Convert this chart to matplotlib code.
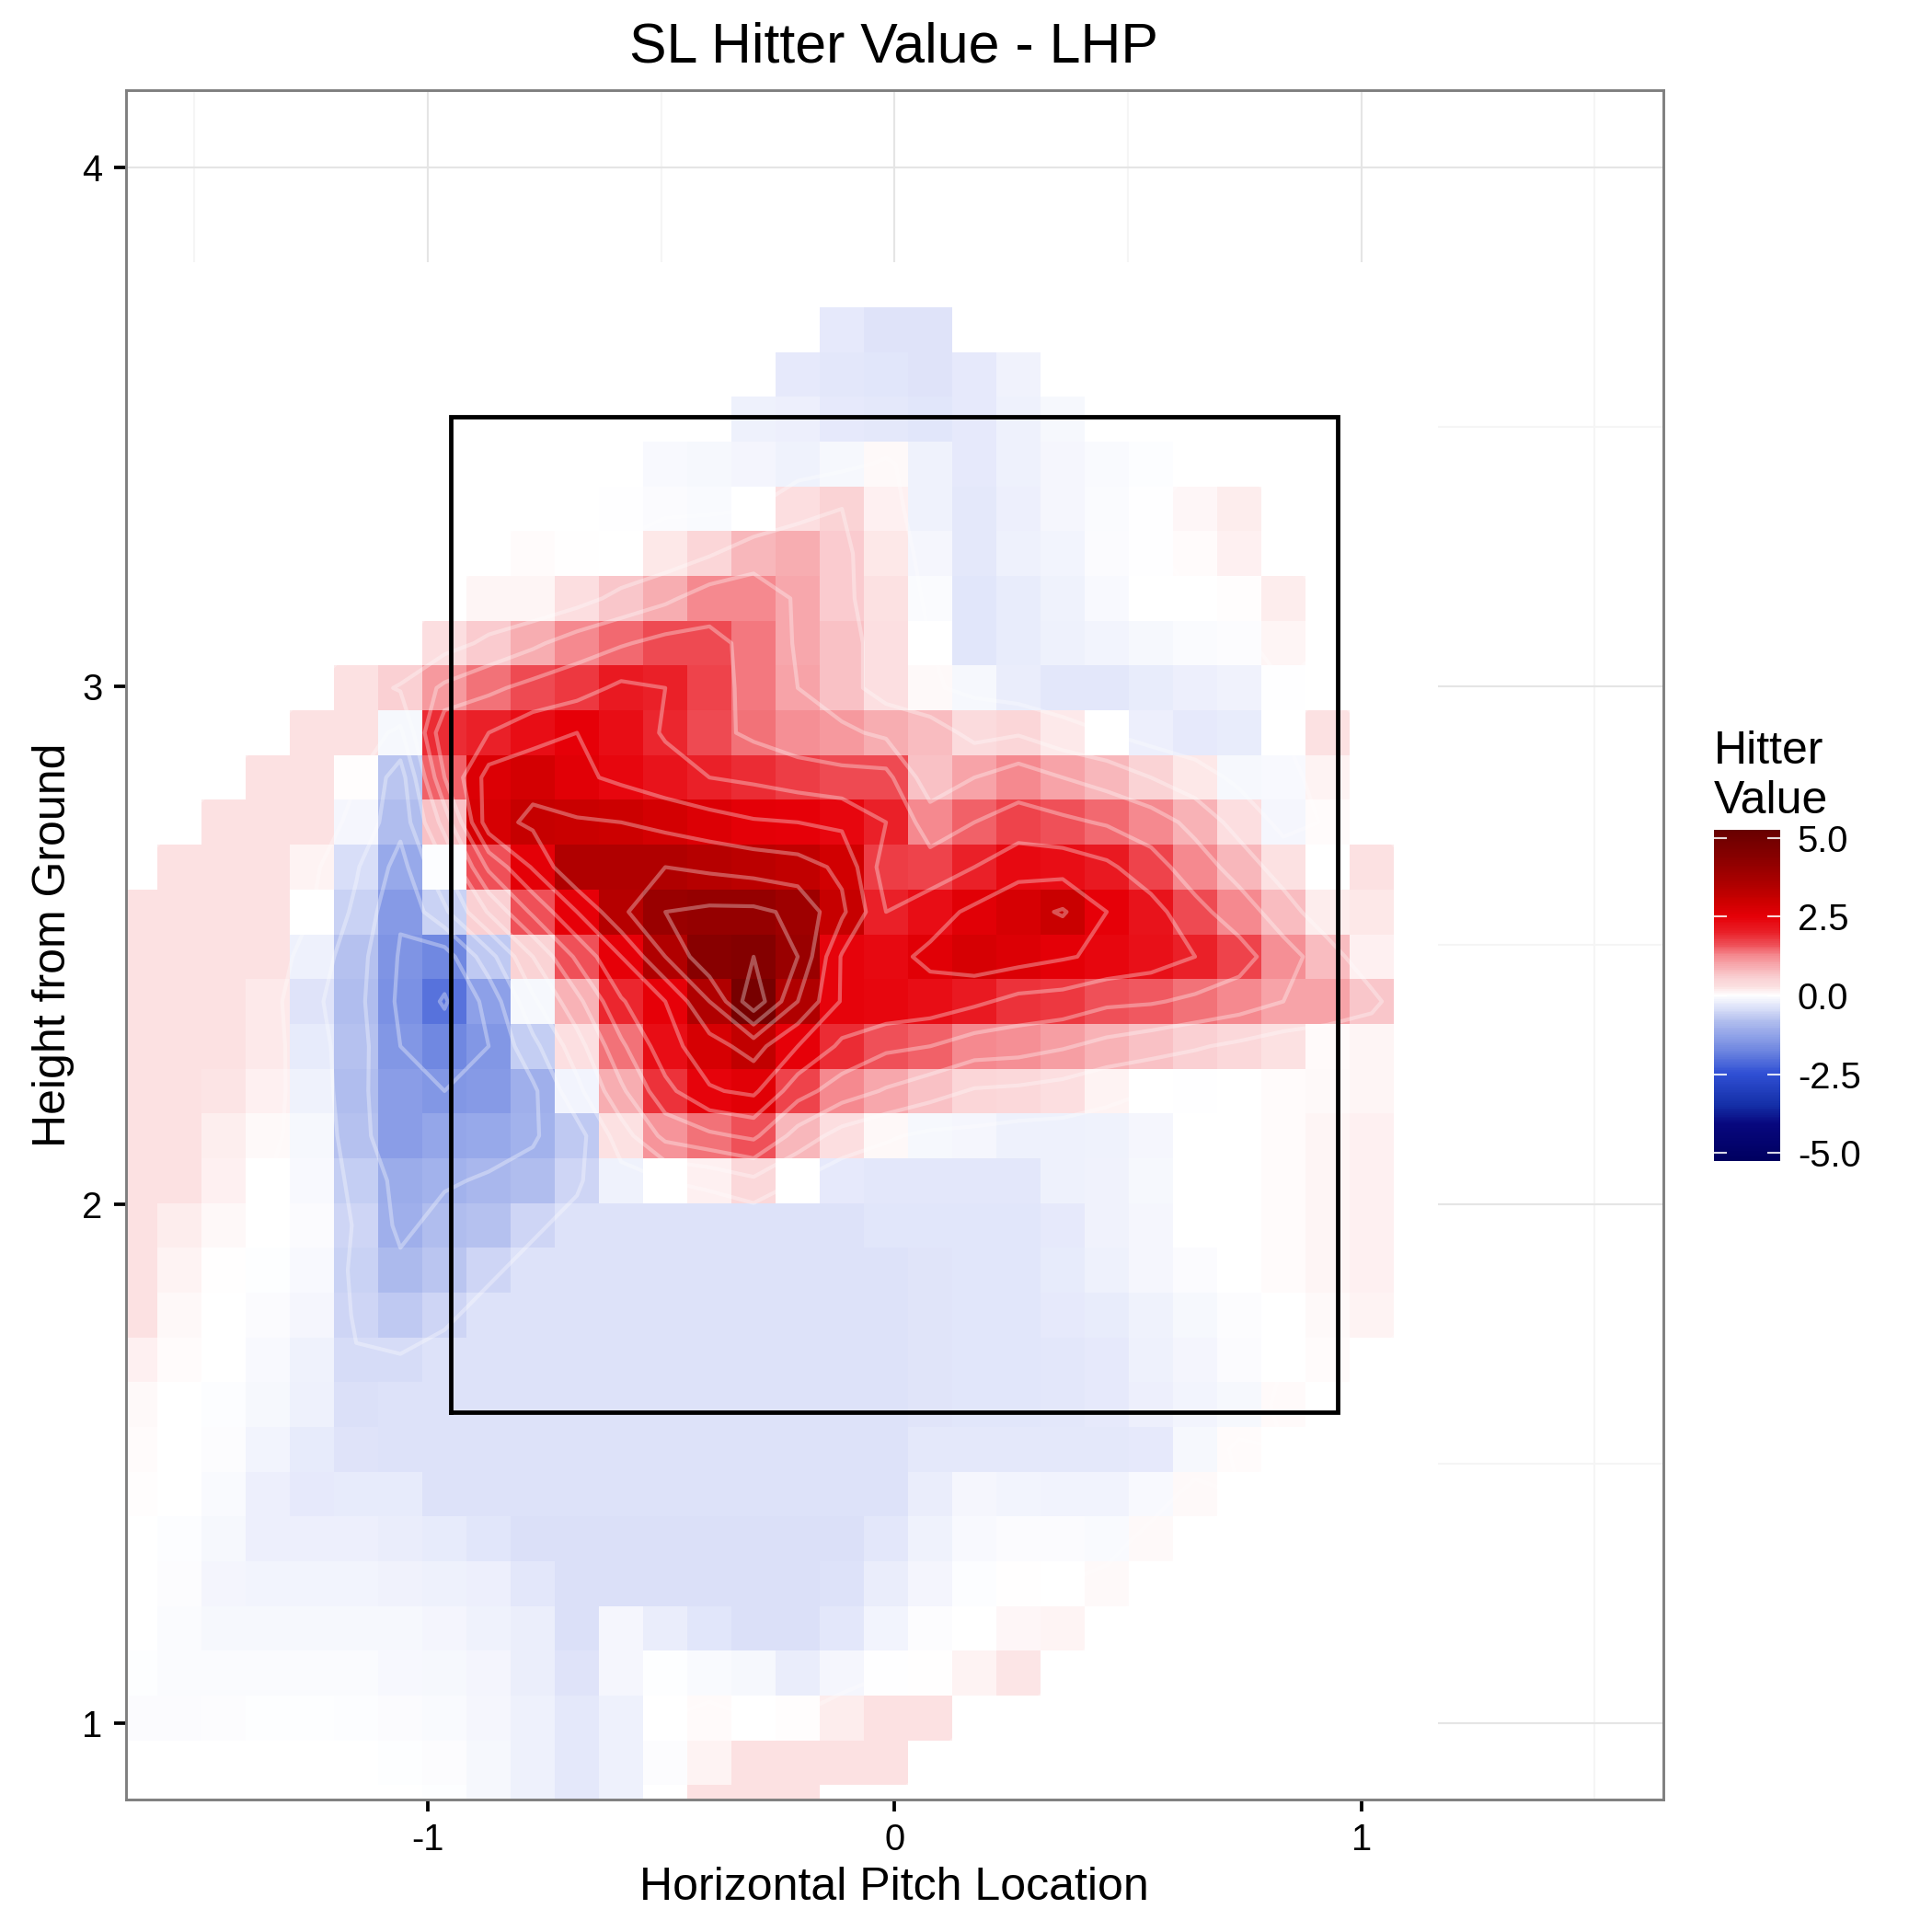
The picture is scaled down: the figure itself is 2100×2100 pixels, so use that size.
import numpy as np
import matplotlib
matplotlib.use('Agg')
import matplotlib.pyplot as plt
from matplotlib.colors import LinearSegmentedColormap, Normalize

plt.rcParams['font.family'] = ['Liberation Sans', 'DejaVu Sans']
plt.rcParams['axes.unicode_minus'] = False

# tile centres
x_centers = np.linspace(-1.626, 1.117, 30)
y_centers = np.linspace(3.7734, 0.8373, 35)

# one row per tile row, top to bottom
hitter_value = [
    [0] * 30,
    [0] * 16 + [-.3, -.38, -.38] + [0] * 11,
    [0] * 15 + [-.3, -.33, -.35, -.38, -.3, -.17] + [0] * 9,
    [0] * 14 + [-.2, -.22, -.3, -.32, -.35, -.3, -.2, -.1] + [0] * 8,
    [0] * 12 + [-.08, -.1, -.13, -.18, -.1, .05, -.18, -.3, -.2, -.12, -.07, -.03] + [0] * 6,
    [0] * 11 + [-.01, -.05, -.07, 0, .3, .5, .12, -.18, -.32, -.22, -.12, -.06, -.01, .07, .15] + [0] * 4,
    [0] * 9 + [.03, .01, .005, .2, .45, .8, .9, .6, .2, -.12, -.32, -.2, -.15, -.05, -.01, .03, .12] + [0] * 4,
    [0] * 8 + [.08, .08, .3, .65, .9, 1.25, 1.25, .95, .6, .25, -.06, -.35, -.27, -.18, -.08, 0, 0, .02, .15] + [0] * 3,
    [0] * 7 + [.3, .6, .9, 1.25, 1.45, 1.65, 1.65, 1.35, .95, .7, .28, 0, -.35, -.27, -.2, -.15, -.1, -.06, -.04, .08] + [0] * 3,
    [0] * 5 + [.25, .55, 1.1, 1.4, 1.65, 1.8, 2.1, 2.0, 1.7, 1.35, 1.0, .7, .28, .05, -.1, -.25, -.33, -.33, -.27, -.22, -.17, -.01] + [0] * 3,
    [0] * 4 + [.25, .25, -.1, 1.9, 2.0, 2.3, 2.5, 2.3, 1.95, 1.65, 1.4, 1.2, 1.1, .9, .75, .35, .45, .18, 0, -.22, -.3, -.27, 0, .25] + [0] * 2,
    [0] * 3 + [.25, .25, .02, -.75, 1.5, 2.7, 2.85, 2.6, 2.4, 2.2, 2.0, 1.9, 1.75, 1.65, 1.65, .7, 1.0, 1.25, 1.0, .8, .5, .2, -.1, -.08, .1] + [0] * 2,
    [0] * 2 + [.25, .25, .25, -.12, -.85, .7, 2.8, 3.1, 3.05, 3.0, 2.85, 2.7, 2.55, 2.5, 2.4, 2.0, 1.25, 1.5, 1.7, 1.6, 1.45, 1.25, .85, .3, -.12, .03] + [0] * 2,
    [0] + [.25, .25, .25, .1, -.45, -1.2, -.03, 1.6, 2.55, 3.5, 3.5, 3.5, 3.4, 3.3, 3.2, 2.9, 1.75, 1.7, 2.0, 2.35, 2.3, 2.1, 1.7, 1.25, .8, .25, 0, .25] + [0],
    [.25, .25, .25, .25, 0, -.6, -1.45, -.6, .55, 1.6, 2.5, 3.4, 4.0, 4.1, 4.1, 3.9, 3.1, 2.0, 2.3, 2.6, 2.8, 3.05, 2.5, 2.2, 1.65, 1.25, .75, .15, .2, 0],
    [.25, .25, .25, .25, -.2, -.8, -1.55, -1.75, -.7, .5, 1.6, 2.5, 3.5, 4.4, 4.5, 4.0, 2.45, 2.35, 2.6, 2.8, 2.7, 2.55, 2.4, 2.25, 2.0, 1.7, 1.2, .75, .12, 0],
    [.25, .25, .25, .18, -.38, -.85, -1.6, -2.05, -1.35, -.1, .85, 1.95, 2.5, 3.5, 4.85, 3.5, 2.45, 2.4, 2.3, 2.1, 1.85, 1.8, 1.6, 1.55, 1.4, 1.25, 1.0, 1.0, .65, 0],
    [.25, .25, .25, .18, -.28, -.8, -1.5, -1.75, -1.5, -.65, .28, 1.4, 2.3, 2.8, 3.2, 2.5, 1.9, 1.6, 1.5, 1.25, 1.2, 1.05, .85, .7, .55, .4, .25, .04, .08, 0],
    [.25, .25, .23, .12, -.18, -.85, -1.4, -1.5, -1.45, -1.1, -.15, .9, 1.85, 2.45, 2.6, 1.7, 1.25, .95, .7, .45, .4, .3, .1, 0, -.01, 0, .03, .05, .08, 0],
    [.25, .25, .14, .05, -.1, -.8, -1.4, -1.25, -1.2, -1.05, -.7, .25, 1.15, 1.4, 1.6, .8, .3, .06, -.1, -.12, -.2, -.2, -.18, -.12, 0, 0, .03, .08, .12, 0],
    [.25, .25, .12, 0, -.08, -.65, -1.15, -1.05, -.95, -.85, -.55, -.18, 0, .12, .4, 0, -.3, -.33, -.33, -.33, -.33, -.2, -.17, -.1, 0, 0, .03, .08, .12, 0],
    [.25, .15, .06, 0, -.05, -.55, -1.1, -.85, -.8, -.55] + [-.4] * 7 + [-.35] * 4 + [-.3, -.17, -.12, 0, 0, .03, .08, .12, 0],
    [.25, .1, .01, -.02, -.08, -.6, -.9, -.75, -.55] + [-.4] * 9 + [-.37, -.35, -.35] + [-.28, -.2, -.12, -.05, 0, .03, .08, .12, 0],
    [.25, .06, 0, -.05, -.12, -.55, -.7, -.55] + [-.4] * 10 + [-.37, -.35, -.35] + [-.3, -.27, -.18, -.1, -.04, 0, .05, .1, 0],
    [.12, .03, 0, -.08, -.18, -.47, -.47] + [-.4] * 11 + [-.37, -.35, -.35, -.33] + [-.3, -.2, -.13, -.05, 0, .03, 0, 0],
    [.05, 0, -.03, -.1, -.2, -.42] + [-.4] * 12 + [-.37, -.35, -.35, -.33] + [-.3, -.22, -.15, -.1, .04, 0, 0, 0],
    [.03, 0, -.04, -.15, -.28, -.38] + [-.4] * 12 + [-.32] * 5 + [-.3, -.1, .03, 0, 0, 0, 0],
    [.02, 0, -.07, -.22, -.3, -.28, -.28] + [-.4] * 11 + [-.25, -.12, -.15, -.16, -.16, -.08, .05, 0, 0, 0, 0, 0],
    [.005, -.03, -.1, -.22, -.22, -.22, -.25, -.28, -.35] + [-.42] * 8 + [-.33, -.18, -.08, -.05, -.05, -.07, .05] + [0] * 6,
    [0, -.04, -.13, -.15, -.15, -.15, -.17, -.2, -.22, -.33] + [-.42] * 6 + [-.4, -.25, -.13, -.03, .01, 0, .05] + [0] * 7,
    [0, -.06, -.1, -.1, -.1, -.1, -.1, -.13, -.18, -.24, -.42, -.12, -.25, -.35, -.42, -.42, -.33, -.15, -.04, 0, .07, .09] + [0] * 8,
    [-.02, -.06, -.06, -.06, -.06, -.06, -.09, -.1, -.13, -.24, -.38, -.12, -.02, -.07, -.1, -.25, -.12, -.01, .01, .1, .22] + [0] * 9,
    [-.05, -.05, -.04, -.02, -.02, -.03, -.05, -.07, -.12, -.2, -.32, -.2, 0, .04, 0, .02, .15, .25, .25] + [0] * 11,
    [0] * 6 + [-.02, -.04, -.1, -.2, -.32, -.2, -.04, .1, .25, .25, .25, .25] + [0] * 12,
    [0] * 7 + [-.02, -.1, -.2, -.32, -.2, 0, .25, .25, .25] + [0] * 14,
]

contour_levels = [-2, -1.5, -1, -.5, 0, .5, 1, 1.5, 2, 2.5, 3, 3.5, 4, 4.5]
x_ticks = [-1, 0, 1]
y_ticks = [1, 2, 3, 4]
legend_ticks = [5, 2.5, 0, -2.5, -5]
zone_x = [-.95, .95, .95, -.95, -.95]
zone_y = [1.6, 1.6, 3.52, 3.52, 1.6]

# colour scale picked off the legend bar
vmax = 5.26
scale_vals = [-5.26, -4.1, -3.5, -2.5, -1.8, -1.35, -.85, -.4, 0, .25, .55, 1.25, 1.6, 2, 2.5, 3, 3.5, 4.4, 5.26]
scale_cols = ['#000060', '#08087f', '#1530a8', '#3050d5', '#6d85e0', '#8da0e8', '#b0bdee', '#dde2f9', '#ffffff',
              '#fce1e2', '#fad0d3', '#f58a90', '#ef5058', '#ea2028', '#e60008', '#cc0000', '#b00000', '#880000', '#680000']
# odd N so that 0 lands exactly on white
cmap = LinearSegmentedColormap.from_list(
    'hitter', [((v + vmax) / (2 * vmax), c) for v, c in zip(scale_vals, scale_cols)], N=1025)
norm = Normalize(-vmax, vmax)

z = np.array(hitter_value, dtype=float)

fig = plt.figure(figsize=(7, 7), dpi=300)
ax = fig.add_axes([.06505, .0686, .7961, .8845])
ax.set_axisbelow(True)

# grid only shows where the tiles stop
ax.set_xticks([-1.5, -.5, .5, 1.5], minor=True)
ax.set_yticks([1.5, 2.5, 3.5], minor=True)
ax.grid(True, which='major', color='#e5e5e5', lw=.5, zorder=0)
ax.grid(True, which='minor', color='#f5f5f5', lw=.5, zorder=0)

ax.pcolormesh(x_centers, y_centers, z, cmap=cmap, norm=norm, shading='nearest', zorder=1, linewidth=0, antialiased=False)
ax.contour(x_centers, y_centers, z, levels=contour_levels, colors='white', alpha=.33, linewidths=1.0,
           linestyles='solid', zorder=2)
ax.plot(zone_x, zone_y, color='black', lw=1.15, zorder=3, solid_joinstyle='miter')

ax.set_xlim(-1.647, 1.648)
ax.set_ylim(.853, 4.148)
ax.set_xticks(x_ticks)
ax.set_xticklabels([str(t) for t in x_ticks])
ax.set_yticks(y_ticks)
ax.set_yticklabels([str(t) for t in y_ticks])
ax.tick_params(which='major', length=3.2, width=.9, color='black', labelsize=9.6, labelcolor='black', pad=2.8)
ax.tick_params(which='minor', length=0)
for s in ax.spines.values():
    s.set_color('#7f7f7f')
    s.set_linewidth(.7)
    s.set_zorder(5)

fig.text(972 / 2100, 1 - 52 / 2100, 'SL Hitter Value - LHP', ha='center', va='center', fontsize=14.6)
fig.text(972 / 2100, 1 - 2052 / 2100, 'Horizontal Pitch Location', ha='center', va='center', fontsize=12)
fig.text(58 / 2100, 1 - 1027 / 2100, 'Height from Ground', ha='center', va='center', rotation=90, fontsize=12)

# legend
cax = fig.add_axes([1863 / 2100, 1 - 1262 / 2100, 72 / 2100, 360 / 2100])
bar = np.linspace(vmax, -vmax, 201).reshape(-1, 1)
cax.imshow(bar, cmap=cmap, norm=norm, aspect='auto', extent=[0, 1, -vmax, vmax], interpolation='nearest')
cax.hlines(legend_ticks, 0, .2, color='white', lw=.5, alpha=.85)
cax.hlines(legend_ticks, .8, 1, color='white', lw=.5, alpha=.85)
cax.set_xticks([])
cax.yaxis.tick_right()
cax.set_yticks(legend_ticks)
cax.set_yticklabels(['%.1f' % t for t in legend_ticks])
cax.tick_params(axis='y', length=0, labelsize=9.6, pad=4.5)
for s in cax.spines.values():
    s.set_visible(False)
fig.text(1863 / 2100, 1 - 830 / 2100, 'Hitter', fontsize=12, ha='left', va='baseline')
fig.text(1863 / 2100, 1 - 884 / 2100, 'Value', fontsize=12, ha='left', va='baseline')

fig.savefig('out.png', dpi=300)
